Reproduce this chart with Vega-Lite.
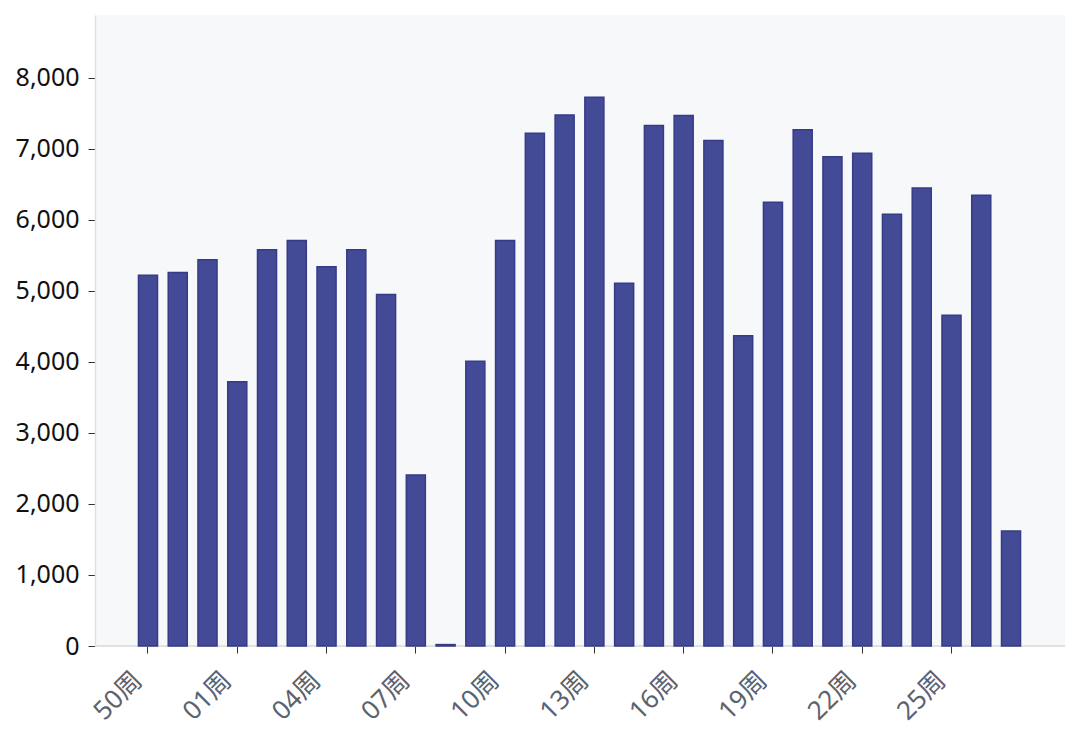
{
  "$schema": "https://vega.github.io/schema/vega-lite/v6.json",
  "autosize": "none",
  "width": 970,
  "height": 631,
  "padding": {"left": 95, "top": 15, "right": 15, "bottom": 89},
  "background": "#ffffff",
  "data": {
    "values": [
      {"week": "50周", "value": 5220},
      {"week": "51周", "value": 5260},
      {"week": "52周", "value": 5440},
      {"week": "01周", "value": 3720},
      {"week": "02周", "value": 5580},
      {"week": "03周", "value": 5710},
      {"week": "04周", "value": 5340},
      {"week": "05周", "value": 5580},
      {"week": "06周", "value": 4950},
      {"week": "07周", "value": 2410},
      {"week": "08周", "value": 20},
      {"week": "09周", "value": 4010},
      {"week": "10周", "value": 5710},
      {"week": "11周", "value": 7220},
      {"week": "12周", "value": 7480},
      {"week": "13周", "value": 7730},
      {"week": "14周", "value": 5110},
      {"week": "15周", "value": 7330},
      {"week": "16周", "value": 7470},
      {"week": "17周", "value": 7120},
      {"week": "18周", "value": 4370},
      {"week": "19周", "value": 6250},
      {"week": "20周", "value": 7270},
      {"week": "21周", "value": 6890},
      {"week": "22周", "value": 6940},
      {"week": "23周", "value": 6080},
      {"week": "24周", "value": 6450},
      {"week": "25周", "value": 4660},
      {"week": "26周", "value": 6350},
      {"week": "27周", "value": 1620}
    ]
  },
  "config": {
    "view": {"fill": "#f7f8fa", "stroke": null},
    "font": "Noto Sans, Noto Sans CJK SC"
  },
  "layer": [
    {
      "mark": {"type": "rule", "color": "#e0e0e0", "strokeWidth": 1.5},
      "encoding": {"y": {"datum": 0, "type": "quantitative"}}
    },
    {
      "mark": {"type": "bar", "color": "#444b96", "stroke": "#363b88", "strokeWidth": 1.5},
      "encoding": {
        "x": {
          "field": "week",
          "type": "ordinal",
          "sort": null,
          "scale": {"paddingInner": 0.36, "paddingOuter": 1, "range": [13.7, 955.3]},
          "axis": {
            "title": null,
            "values": ["50周", "01周", "04周", "07周", "10周", "13周", "16周", "19周", "22周", "25周"],
            "labelAngle": -45,
            "labelAlign": "right",
            "labelBaseline": "middle",
            "labelFontSize": 26,
            "labelColor": "#5b6270",
            "labelPadding": 23,
            "labelOffset": -10,
            "tickColor": "#333333",
            "tickSize": 7,
            "domain": false
          }
        },
        "y": {
          "field": "value",
          "type": "quantitative",
          "scale": {"domain": [0, 8887], "nice": false},
          "axis": {
            "title": null,
            "values": [0, 1000, 2000, 3000, 4000, 5000, 6000, 7000, 8000],
            "format": ",d",
            "labelFontSize": 25,
            "labelColor": "#111111",
            "labelPadding": 9,
            "tickColor": "#333333",
            "tickSize": 7,
            "domainColor": "#e0e0e0",
            "domainWidth": 1.5,
            "gridColor": "#d9d9d9",
            "gridDash": [6, 4]
          }
        }
      }
    }
  ]
}
